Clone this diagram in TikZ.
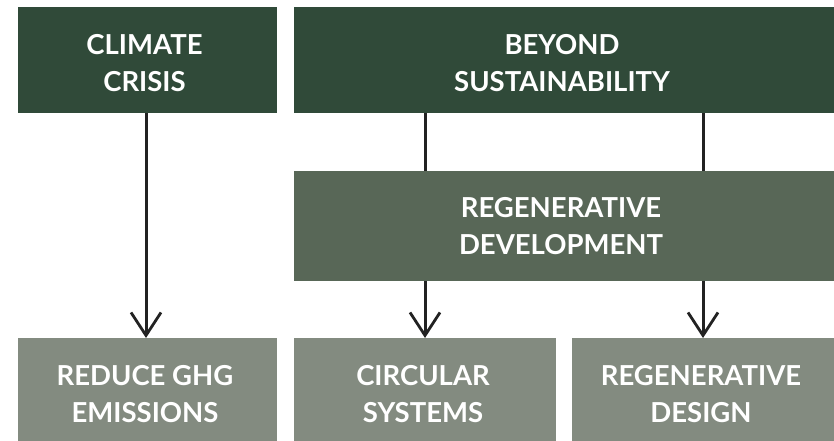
\documentclass[tikz,border=0pt]{standalone}
\usepackage{fontspec}
\setmainfont{Lato}
\usetikzlibrary{arrows.meta}
\definecolor{dkgreen}{HTML}{304A39}
\definecolor{mdgreen}{HTML}{586757}
\definecolor{ltgreen}{HTML}{838B80}
\definecolor{linec}{HTML}{222222}
\tikzset{
  boxA/.style={fill=dkgreen, draw=none, inner sep=0pt, anchor=north west},
  boxB/.style={fill=mdgreen, draw=none, inner sep=0pt, anchor=north west},
  boxC/.style={fill=ltgreen, draw=none, inner sep=0pt, anchor=north west},
  lbl/.style={text=white, align=center, inner sep=0pt, font=\bfseries\fontsize{27.5}{37}\selectfont},
  conn/.style={draw=linec, line width=3pt},
  arr/.style={conn, -{Straight Barb[length=23pt, width=30pt, line width=2.8pt]}}
}
\begin{document}
\begin{tikzpicture}[x=1pt,y=-1pt]
\useasboundingbox (0,0) rectangle (834,440);
% boxes
\node[boxA, minimum width=259pt, minimum height=106pt] (crisis) at (18,7) {};
\node[boxA, minimum width=540pt, minimum height=106pt] (beyond) at (294,7) {};
\node[boxB, minimum width=540pt, minimum height=110pt] (regdev) at (294,171) {};
\node[boxC, minimum width=259pt, minimum height=112pt] (ghg) at (18,338) {};
\node[boxC, minimum width=262pt, minimum height=112pt] (circ) at (294,338) {};
\node[boxC, minimum width=262pt, minimum height=112pt] (design) at (572,338) {};
% labels
\node[lbl] (crisisT) at (144.5,63.5) {CLIMATE\\CRISIS};
\node[lbl] (beyondT) at (562,63.5) {BEYOND\\SUSTAINABILITY};
\node[lbl] (regdevT) at (561,226) {REGENERATIVE\\DEVELOPMENT};
\node[lbl] (ghgT) at (145,394) {REDUCE GHG\\EMISSIONS};
\node[lbl] (circT) at (423,394) {CIRCULAR\\SYSTEMS};
\node[lbl] (designT) at (701,394) {REGENERATIVE\\DESIGN};
% connectors
\coordinate (c1) at (146,0);
\coordinate (c2) at (425,0);
\coordinate (c3) at (703,0);
\draw[arr] (crisis.south -| c1) -- (ghg.north -| c1);
\draw[conn] (beyond.south -| c2) -- (regdev.north -| c2);
\draw[conn] (beyond.south -| c3) -- (regdev.north -| c3);
\draw[arr] (regdev.south -| c2) -- (circ.north -| c2);
\draw[arr] (regdev.south -| c3) -- (design.north -| c3);
\end{tikzpicture}
\end{document}
